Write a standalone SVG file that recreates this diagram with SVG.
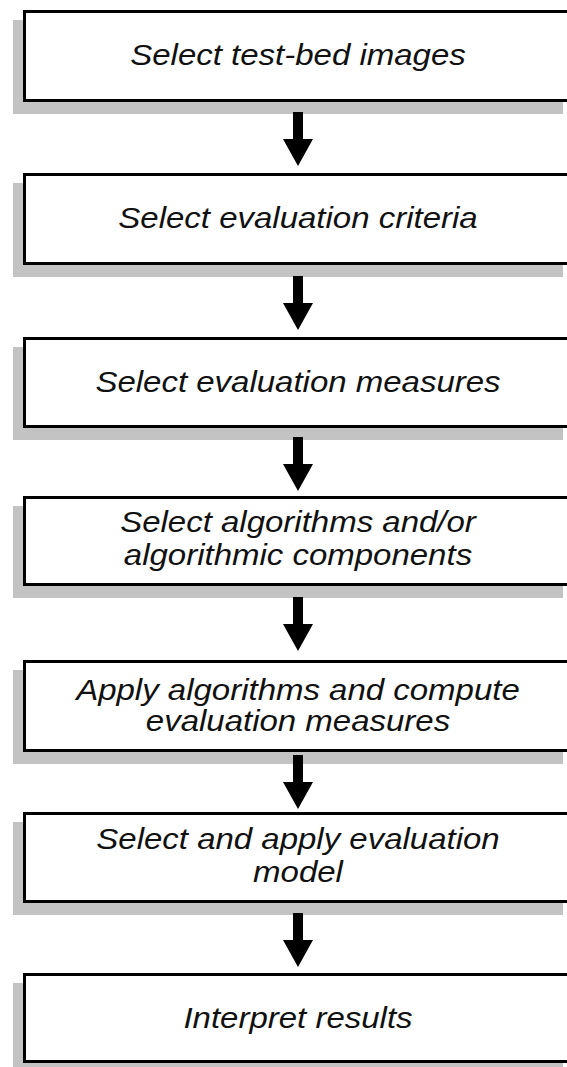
<svg xmlns="http://www.w3.org/2000/svg" width="567" height="1067" viewBox="0 0 567 1067">
<style>
.shadow{fill:#c3c3c3;stroke:none}
.box{fill:#ffffff;stroke:#000000;stroke-width:3}
.lbl{font-family:"Liberation Sans",Arial,sans-serif;font-style:italic;font-size:30px;fill:#111111;text-anchor:middle}
.arrow{fill:#000000;stroke:none}
</style>
<defs>
<path id="arr" d="M -5 0 H 5 V 27 H 15 L 0 54 L -15 27 H -5 Z"/>
</defs>
<g id="node1">
<rect class="shadow" x="13" y="20" width="550" height="94"/>
<rect class="box" x="24.5" y="11.5" width="550" height="89"/>
<text class="lbl" transform="scale(1.1 1)" x="270.9" y="65">Select test-bed images</text>
</g>
<g id="node2">
<rect class="shadow" x="13" y="183" width="550" height="94"/>
<rect class="box" x="24.5" y="174.5" width="550" height="89"/>
<text class="lbl" transform="scale(1.1 1)" x="270.9" y="228">Select evaluation criteria</text>
</g>
<g id="node3">
<rect class="shadow" x="13" y="347" width="550" height="93"/>
<rect class="box" x="24.5" y="338.5" width="550" height="88"/>
<text class="lbl" transform="scale(1.1 1)" x="270.9" y="392">Select evaluation measures</text>
</g>
<g id="node4">
<rect class="shadow" x="13" y="506" width="550" height="92"/>
<rect class="box" x="24.5" y="497.5" width="550" height="87"/>
<text class="lbl" transform="scale(1.1 1)" x="270.9" y="532">Select algorithms and/or</text>
<text class="lbl" transform="scale(1.1 1)" x="270.9" y="565">algorithmic components</text>
</g>
<g id="node5">
<rect class="shadow" x="13" y="670" width="550" height="94"/>
<rect class="box" x="24.5" y="661.5" width="550" height="89"/>
<text class="lbl" transform="scale(1.1 1)" x="270.9" y="700">Apply algorithms and compute</text>
<text class="lbl" transform="scale(1.1 1)" x="270.9" y="731">evaluation measures</text>
</g>
<g id="node6">
<rect class="shadow" x="13" y="822" width="550" height="93"/>
<rect class="box" x="24.5" y="813.5" width="550" height="88"/>
<text class="lbl" transform="scale(1.1 1)" x="270.9" y="849">Select and apply evaluation</text>
<text class="lbl" transform="scale(1.1 1)" x="270.9" y="882">model</text>
</g>
<g id="node7">
<rect class="shadow" x="13" y="983" width="550" height="92"/>
<rect class="box" x="24.5" y="974.5" width="550" height="87"/>
<text class="lbl" transform="scale(1.1 1)" x="270.9" y="1028">Interpret results</text>
</g>
<g id="connectors">
<use href="#arr" class="arrow" x="298" y="112"/>
<use href="#arr" class="arrow" x="298" y="276"/>
<use href="#arr" class="arrow" x="298" y="437"/>
<use href="#arr" class="arrow" x="298" y="597"/>
<use href="#arr" class="arrow" x="298" y="755"/>
<use href="#arr" class="arrow" x="298" y="913"/>
</g>
</svg>
